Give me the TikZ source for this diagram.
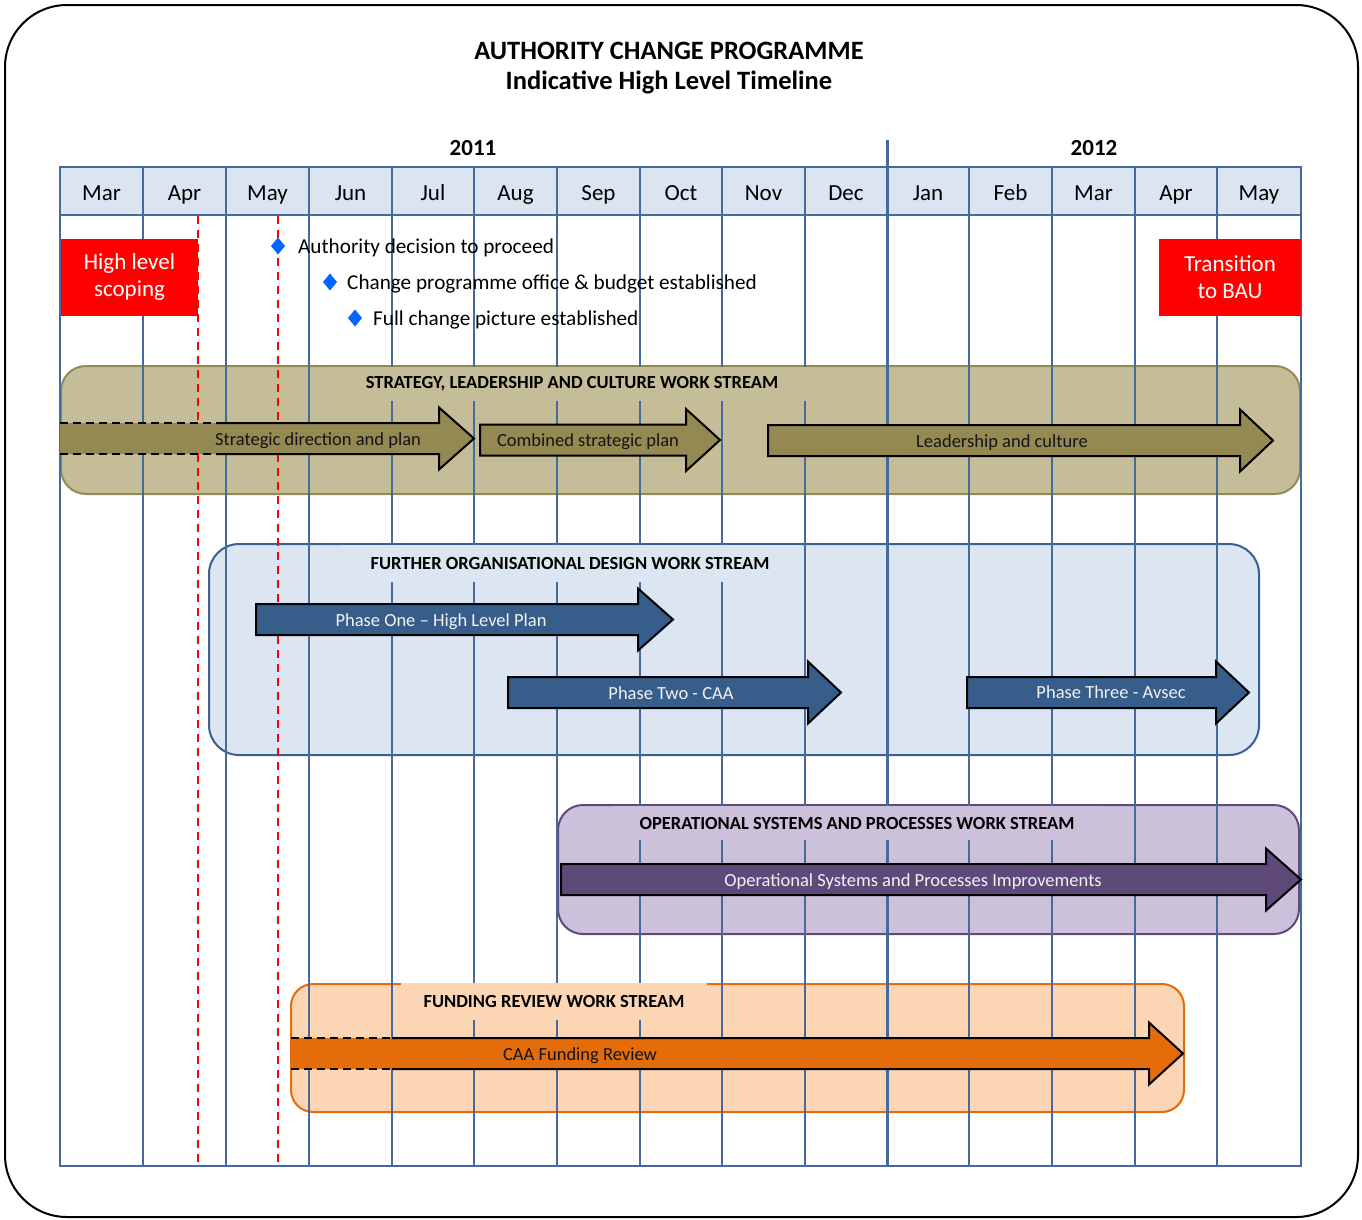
\documentclass[tikz,border=0pt]{standalone}
\usepackage{fontspec}
\setmainfont{Carlito}
\usetikzlibrary{shapes.geometric}
\definecolor{gridblue}{RGB}{70,106,155}
\definecolor{headfill}{RGB}{219,229,241}
\definecolor{msblue}{RGB}{0,102,255}
\definecolor{stratfill}{RGB}{196,189,151}
\definecolor{stratedge}{RGB}{148,138,84}
\definecolor{stratarrow}{RGB}{148,137,82}
\definecolor{orgfill}{RGB}{220,230,242}
\definecolor{orgedge}{RGB}{60,95,145}
\definecolor{orgarrow}{RGB}{55,93,138}
\definecolor{opsfill}{RGB}{204,193,218}
\definecolor{opsedge}{RGB}{96,73,122}
\definecolor{opsarrow}{RGB}{95,73,122}
\definecolor{fundfill}{RGB}{252,213,181}
\definecolor{fundedge}{RGB}{228,108,10}
\definecolor{fundarrow}{RGB}{228,108,10}
\definecolor{darktext}{RGB}{20,20,20}
\definecolor{lighttext}{RGB}{242,242,242}
% #1 fill, #2 x start, #3 head base, #4 tip, #5 y middle
\newcommand{\mkarrow}[5]{%
  \draw[arrowline, fill=#1] (#2,#5-15.5) -- (#3,#5-15.5) -- (#3,#5-31) -- (#4,#5)
     -- (#3,#5+31) -- (#3,#5+15.5) -- (#2,#5+15.5) -- cycle;}
% #1 fill, #2 x start, #3 solid start, #4 head base, #5 tip, #6 y middle
\newcommand{\mkdasharrow}[6]{%
  \fill[#1] (#2,#6-15.5) -- (#4,#6-15.5) -- (#4,#6-31) -- (#5,#6)
     -- (#4,#6+31) -- (#4,#6+15.5) -- (#2,#6+15.5) -- cycle;
  \draw[arrowline] (#3,#6-15.5) -- (#4,#6-15.5) -- (#4,#6-31) -- (#5,#6)
     -- (#4,#6+31) -- (#4,#6+15.5) -- (#3,#6+15.5);
  \draw[arrowline, dash pattern=on 8pt off 5pt] (#2,#6-15.5) -- (#3,#6-15.5)
     (#2,#6+15.5) -- (#3,#6+15.5);}
\begin{document}
\begin{tikzpicture}[x=1pt,y=-1pt,
  gridline/.style={draw=gridblue, line width=1.8pt},
  reddash/.style={draw=red, line width=2pt, dash pattern=on 8pt off 6pt},
  arrowline/.style={draw=black, line width=2pt, line join=miter},
  monthlbl/.style={font=\fontsize{23}{27}\selectfont, anchor=base, inner sep=0pt},
  yearlbl/.style={font=\bfseries\fontsize{23}{27}\selectfont, anchor=base, inner sep=0pt},
  titlelbl/.style={font=\bfseries\fontsize{26.5}{30}\selectfont, anchor=base, inner sep=0pt},
  mslbl/.style={font=\fontsize{21.2}{25}\selectfont, anchor=base west, inner sep=0pt},
  msdiamond/.style={inner sep=0pt, minimum size=0pt},
  redbox/.style={fill=red, text=white, font=\fontsize{23}{27}\selectfont, align=center, inner sep=0pt},
  streamtitle/.style={font=\bfseries\fontsize{18.5}{22}\selectfont, inner sep=0pt, text=black},
  arrowlbl/.style={font=\fontsize{18.5}{22}\selectfont, inner sep=0pt, anchor=base},
  streambox/.style={line width=2pt},
]
\useasboundingbox (0,0) rectangle (1362,1219);
\fill[white] (0,0) rectangle (1362,1219);
% outer frame
\draw[line width=2pt, rounded corners=62pt] (5,5) rectangle (1358,1217);
% title
\node[titlelbl] (title1) at (669,59.5) {AUTHORITY CHANGE PROGRAMME};
\node[titlelbl] (title2) at (669,89.5) {Indicative High Level Timeline};
% stream boxes
\draw[streambox, fill=stratfill, draw=stratedge, rounded corners=25pt] (61,366) rectangle (1300,494);
\draw[streambox, fill=orgfill, draw=orgedge, rounded corners=30pt] (209,544) rectangle (1259,755);
\draw[streambox, fill=opsfill, draw=opsedge, rounded corners=25pt] (558,805) rectangle (1299,934);
\draw[streambox, fill=fundfill, draw=fundedge, rounded corners=22pt] (291,984) rectangle (1184,1112);
% header
\fill[headfill] (60,167) rectangle (1301,215);
\foreach \a/\b/\m [count=\i] in {60/143/Mar,143/226/Apr,226/309/May,309/392/Jun,392/474/Jul,
   474/557/Aug,557/640/Sep,640/722/Oct,722/805/Nov,805/887/Dec,887/969/Jan,969/1052/Feb,
   1052/1135/Mar,1135/1217/Apr,1217/1301/May}
  \node[monthlbl] (month\i) at ({(\a+\b)/2},200.5) {\m};
\node[yearlbl] (y2011) at (473,155) {2011};
\node[yearlbl] (y2012) at (1094,155) {2012};
% grid
\foreach \x in {60,143,226,309,392,474,557,640,722,805,969,1052,1135,1217,1301}
  \draw[gridline] (\x,167) -- (\x,1166);
\draw[gridline, line width=3pt] (887,140) -- (887,1166);
\draw[gridline] (59.1,167) -- (1301.9,167);
\draw[gridline] (59.1,215) -- (1301.9,215);
\draw[gridline] (59.1,1166) -- (1301.9,1166);
% red dashed markers
\draw[reddash] (198,216) -- (198,1162);
\draw[reddash] (278,216) -- (278,1162);
% red boxes
\node[redbox, minimum width=137pt, minimum height=77pt] (hls) at (129.5,277) {High level\\scoping};
\node[redbox, minimum width=142pt, minimum height=77pt] (bau) at (1230,277) {Transition\\to BAU};
% stream titles
\node[streamtitle, fill=stratfill, minimum width=480pt, minimum height=34pt] (t1) at (572,384) {STRATEGY, LEADERSHIP AND CULTURE WORK STREAM};
\node[streamtitle, fill=orgfill, minimum width=460pt, minimum height=37pt] (t2) at (570,563.5) {FURTHER ORGANISATIONAL DESIGN WORK STREAM};
\node[streamtitle, fill=opsfill, minimum width=490pt, minimum height=34pt] (t3) at (857,823) {OPERATIONAL SYSTEMS AND PROCESSES WORK STREAM};
\node[streamtitle, fill=fundfill, minimum width=306pt, minimum height=37pt] (t4) at (554,1001.5) {FUNDING REVIEW WORK STREAM};
% arrows
\mkdasharrow{stratarrow}{60}{217}{439}{474}{438.5}
\mkarrow{stratarrow}{480}{686}{720}{440}
\mkarrow{stratarrow}{768}{1240}{1273}{440.5}
\mkarrow{orgarrow}{256}{638}{673}{619.5}
\mkarrow{orgarrow}{508}{808}{841}{692.5}
\mkarrow{orgarrow}{967}{1216}{1249}{692.5}
\mkarrow{opsarrow}{561}{1266}{1301}{879.5}
\mkdasharrow{fundarrow}{291}{392}{1149}{1183}{1053.5}
% arrow labels
\node[arrowlbl, text=darktext] (a1) at (318,445) {Strategic direction and plan};
\node[arrowlbl, text=darktext] (a2) at (588,446.5) {Combined strategic plan};
\node[arrowlbl, text=darktext] (a3) at (1002,447) {Leadership and culture};
\node[arrowlbl, text=lighttext] (a4) at (441,626) {Phase One -- High Level Plan};
\node[arrowlbl, text=lighttext] (a5) at (671,699) {Phase Two - CAA};
\node[arrowlbl, text=lighttext] (a6) at (1111,698) {Phase Three - Avsec};
\node[arrowlbl, text=lighttext] (a7) at (913,886) {Operational Systems and Processes Improvements};
\node[arrowlbl, text=darktext] (a8) at (580,1060) {CAA Funding Review};
% milestones
\foreach \n/\x/\y in {d1/278/246,d2/330/282,d3/355/318}{
  \node[msdiamond] (\n) at (\x,\y) {};
  \fill[msblue] (\n.center) ++(0,-8.5) -- ++(7,8.5) -- ++(-7,8.5) -- ++(-7,-8.5) -- cycle;
}
\node[mslbl] (ms1) at (298,253) {Authority decision to proceed};
\node[mslbl] (ms2) at (347,289) {Change programme office \& budget established};
\node[mslbl] (ms3) at (373,325.5) {Full change picture established};
\end{tikzpicture}
\end{document}
